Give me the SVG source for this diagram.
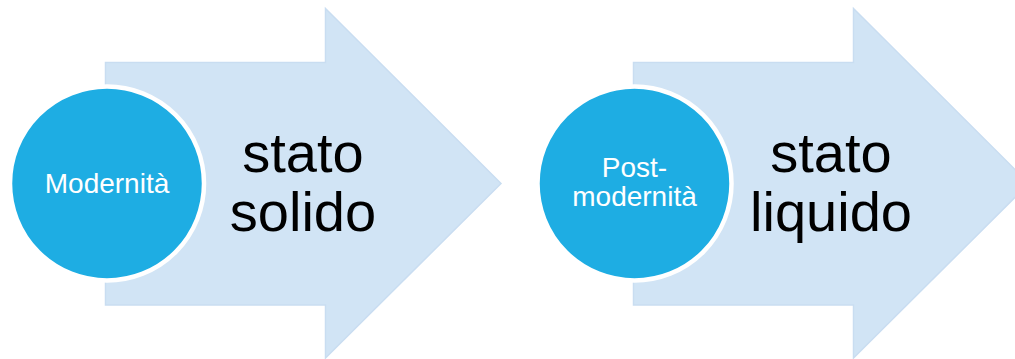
<svg xmlns="http://www.w3.org/2000/svg" width="1015" height="359" viewBox="0 0 1015 359">
<style>
.arrow{fill:#d1e4f5;stroke:#c9ddf1;stroke-width:1.5;stroke-linejoin:miter}
.circ{fill:#1eade3;stroke:#ffffff;stroke-width:4.5}
.ct{font-family:"Liberation Sans",Arial,sans-serif;font-size:28px;fill:#ffffff;text-anchor:middle}
.at{font-family:"Liberation Sans",Arial,sans-serif;font-size:56px;fill:#000000;text-anchor:middle}
</style>
<rect width="1015" height="359" fill="#ffffff"/>
<g id="arrow1">
<path class="arrow" d="M105.5,62.5 H325.5 V8.5 L501,183.5 L325.5,358 V305 H105.5 Z"/>
</g>
<g id="arrow2">
<path class="arrow" d="M633.5,62.5 H853.5 V8.5 L1029,183.5 L853.5,358 V305 H633.5 Z"/>
</g>
<g id="node-modernita">
<circle class="circ" cx="107" cy="183.5" r="97"/>
<text class="ct" x="107" y="193">Modernità</text>
</g>
<g id="label-solido">
<text class="at" x="303" y="172">stato</text>
<text class="at" x="303" y="231">solido</text>
</g>
<g id="node-postmodernita">
<circle class="circ" cx="634.5" cy="183.5" r="97"/>
<text class="ct" x="634.5" y="177">Post-</text>
<text class="ct" x="634.5" y="206">modernità</text>
</g>
<g id="label-liquido">
<text class="at" x="831" y="172">stato</text>
<text class="at" x="831" y="231">liquido</text>
</g>
<g id="connectors"></g>
</svg>
